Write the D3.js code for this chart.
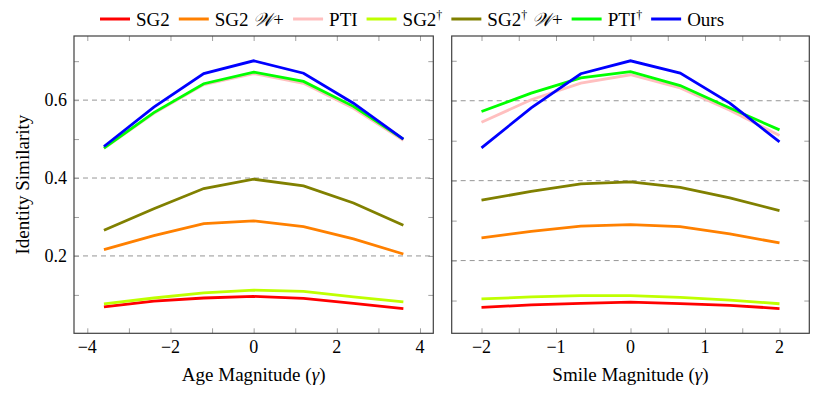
<!DOCTYPE html>
<html>
<head>
<meta charset="utf-8">
<script src="https://cdn.jsdelivr.net/npm/d3@7"></script>
<style>
  body { margin: 0; background: #fff; }
  svg text { font-family: "Liberation Serif", "DejaVu Serif", serif; fill: #000; }
</style>
</head>
<body>
<svg id="chart" width="830" height="397"></svg>
<script>
// series names & colours (legend order = draw order)
var names  = ["SG2", "SG2 𝒲+", "PTI", "SG2†", "SG2† 𝒲+", "PTI†", "Ours"];
var colors = ["#ff0000", "#ff8000", "#ffbfbf", "#bfff00", "#808000", "#00ff00", "#0000ff"];

// x positions
var ageX   = [-3.6, -2.4, -1.2, 0, 1.2, 2.4, 3.6];
var smileX = [-2, -1.333, -0.667, 0, 0.667, 1.333, 2];

// identity similarity, age edits
var ageSG2   = [0.069, 0.084, 0.092, 0.096, 0.091, 0.078, 0.065];
var ageSG2W  = [0.216, 0.252, 0.283, 0.290, 0.275, 0.244, 0.205];
var agePTI   = [0.476, 0.566, 0.640, 0.668, 0.643, 0.579, 0.497];
var ageSG2d  = [0.077, 0.092, 0.105, 0.112, 0.109, 0.095, 0.082];
var ageSG2dW = [0.266, 0.321, 0.373, 0.397, 0.380, 0.336, 0.279];
var agePTId  = [0.477, 0.568, 0.642, 0.672, 0.648, 0.584, 0.500];
var ageOurs  = [0.481, 0.582, 0.668, 0.701, 0.669, 0.592, 0.500];

// identity similarity, smile edits
var smileSG2   = [0.083, 0.089, 0.093, 0.096, 0.0925, 0.088, 0.080];
var smileSG2W  = [0.257, 0.273, 0.286, 0.290, 0.285, 0.267, 0.244];
var smilePTI   = [0.546, 0.6025, 0.644, 0.665, 0.632, 0.576, 0.513];
var smileSG2d  = [0.104, 0.109, 0.1125, 0.1125, 0.108, 0.101, 0.092];
var smileSG2dW = [0.351, 0.373, 0.392, 0.397, 0.383, 0.357, 0.325];
var smilePTId  = [0.573, 0.619, 0.657, 0.673, 0.638, 0.582, 0.527];
var smileOurs  = [0.482, 0.582, 0.6675, 0.700, 0.669, 0.594, 0.497];

// ticks
var ageTicks = [-4, -2, 0, 2, 4], ageMinor = [-3, -1, 1, 3];
var smileTicks = [-2, -1, 0, 1, 2], smileMinor = [-1.5, -0.5, 0.5, 1.5];
var yTicks = [0.2, 0.4, 0.6], yMinor = [0.1, 0.3, 0.5, 0.7];

var svg = d3.select("#chart");
var top_ = 36, bottom = 333.3;

// pgfplots-like 10% enlargement of the data range
function enlarged(arr){
  var lo = d3.min(arr), hi = d3.max(arr), pad = (hi - lo) * 0.1;
  return [lo - pad, hi + pad];
}

function panel(opts){
  var x = d3.scaleLinear().domain(enlarged(opts.xs)).range([opts.left, opts.right]);
  var y = d3.scaleLinear().domain(enlarged(d3.merge(opts.series))).range([bottom, top_]);
  var g = svg.append("g");

  // dashed grid at major y ticks
  g.selectAll(".grid").data(yTicks).enter().append("line")
    .attr("x1", opts.left).attr("x2", opts.right)
    .attr("y1", function(d){ return y(d); }).attr("y2", function(d){ return y(d); })
    .attr("stroke", "#8a8a8a").attr("stroke-width", 0.9).attr("stroke-dasharray", "5,4");

  // inward ticks on all four sides
  function ticks(call, tr){
    var a = g.append("g").attr("transform", tr).call(call);
    a.select(".domain").remove();
    a.selectAll(".tick line").attr("stroke", "#a0a0a0").attr("stroke-width", 1);
    a.selectAll(".tick text").remove();
  }
  var allX = opts.xTicks.concat(opts.xMinor), allY = yTicks.concat(yMinor);
  ticks(d3.axisBottom(x).tickValues(allX).tickSize(-5), "translate(0," + bottom + ")");
  ticks(d3.axisTop(x).tickValues(allX).tickSize(-5), "translate(0," + top_ + ")");
  ticks(d3.axisLeft(y).tickValues(allY).tickSize(-5), "translate(" + opts.left + ",0)");
  ticks(d3.axisRight(y).tickValues(allY).tickSize(-5), "translate(" + opts.right + ",0)");

  // x tick labels
  var fmt = d3.format("d");
  g.selectAll(".xl").data(opts.xTicks).enter().append("text")
    .attr("x", function(d){ return x(d); }).attr("y", 353)
    .attr("text-anchor", "middle").attr("font-size", 18)
    .text(function(d){ return fmt(d); });

  if (opts.yLabels) {
    g.selectAll(".yl").data(yTicks).enter().append("text")
      .attr("x", opts.left - 7).attr("y", function(d){ return y(d) + 6; })
      .attr("text-anchor", "end").attr("font-size", 18)
      .text(function(d){ return d3.format(".1f")(d); });
    g.append("text")
      .attr("transform", "translate(29," + ((top_ + bottom) / 2) + ") rotate(-90)")
      .attr("text-anchor", "middle").attr("font-size", 19)
      .text("Identity Similarity");
  }

  // axis title
  var t = g.append("text")
    .attr("x", (opts.left + opts.right) / 2).attr("y", 381)
    .attr("text-anchor", "middle").attr("font-size", 19);
  t.append("tspan").text(opts.title + " (");
  t.append("tspan").attr("font-style", "italic").text("γ");
  t.append("tspan").text(")");

  // series lines
  var line = d3.line()
    .x(function(d, i){ return x(opts.xs[i]); })
    .y(function(d){ return y(d); });
  g.selectAll(".series").data(opts.series).enter().append("path")
    .attr("d", line)
    .attr("fill", "none")
    .attr("stroke", function(d, i){ return colors[i]; })
    .attr("stroke-width", 2.8)
    .attr("stroke-linejoin", "miter");

  // frame
  g.append("rect")
    .attr("x", opts.left).attr("y", top_)
    .attr("width", opts.right - opts.left).attr("height", bottom - top_)
    .attr("fill", "none").attr("stroke", "#404040").attr("stroke-width", 1.2);
}

panel({
  left: 74, right: 433.3, xs: ageX, xTicks: ageTicks, xMinor: ageMinor,
  series: [ageSG2, ageSG2W, agePTI, ageSG2d, ageSG2dW, agePTId, ageOurs],
  yLabels: true, title: "Age Magnitude"
});
panel({
  left: 451.7, right: 809.3, xs: smileX, xTicks: smileTicks, xMinor: smileMinor,
  series: [smileSG2, smileSG2W, smilePTI, smileSG2d, smileSG2dW, smilePTId, smileOurs],
  yLabels: false, title: "Smile Magnitude"
});

// legend
var legend = svg.append("g");
var lx = 100;
names.forEach(function(name, i){
  legend.append("line")
    .attr("x1", lx).attr("x2", lx + 30).attr("y1", 19).attr("y2", 19)
    .attr("stroke", colors[i]).attr("stroke-width", 3);
  var t = legend.append("text").attr("x", lx + 36).attr("y", 25.5).attr("font-size", 19);
  // split name into plain / dagger / script parts; dagger is a superscript
  var raised = false;
  name.split(/(†|𝒲)/).forEach(function(part){
    if (!part) return;
    if (part === "†") {
      t.append("tspan").attr("font-size", 12).attr("dy", -7).text("†");
      raised = true;
      return;
    }
    var s = t.append("tspan").text(part === " " ? "\u00a0" : part);
    if (part === "𝒲") s.attr("font-style", "italic");
    if (raised) { s.attr("dy", 7); raised = false; }
  });
  lx += 36 + t.node().getComputedTextLength() + 9;
});
</script>
</body>
</html>
